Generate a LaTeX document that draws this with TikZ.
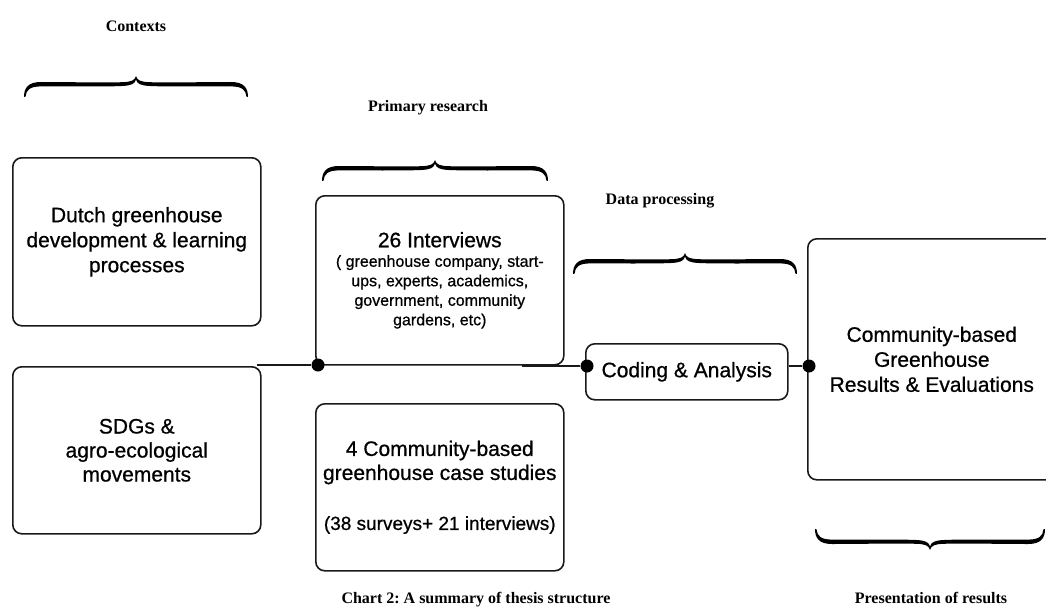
\documentclass[tikz,border=0pt]{standalone}
\usepackage{fontspec}
\setmainfont[FakeBold=0.7]{Liberation Sans}
\newfontfamily\labelfont{Liberation Serif}
\frenchspacing
\newcommand\calbrace[4]{% #1 x left, #2 x right, #3 y of tips, #4 = 1 cusp up / -1 cusp down
  \begin{scope}[shift={(#1,#3)}, yscale=-#4]
    \pgfmathsetmacro\bW{#2-#1}
    \pgfmathsetmacro\bM{(#2-#1)/2}
    \fill[black] (0,0) .. controls (0,9) and (4,15) .. (17,15)
      .. controls (40,15) and (\bM-30,14.2) .. (\bM-14,14.8) .. controls (\bM-5,15) and (\bM-1,16.5) .. (\bM,21)
      .. controls (\bM+1,16.5) and (\bM+5,15) .. (\bM+14,14.8)
      .. controls (\bM+30,14.2) and (\bW-40,15) .. (\bW-17,15) .. controls (\bW-4,15) and (\bW,9) .. (\bW,0)
      -- (\bW-1.6,0.4) .. controls (\bW-2,7) and (\bW-6,10.6) .. (\bW-17,10.6)
      .. controls (\bW-40,10.6) and (\bM+30,10.2) .. (\bM+14,11) .. controls (\bM+5,11.4) and (\bM+1,13) .. (\bM,17.5)
      .. controls (\bM-1,13) and (\bM-5,11.4) .. (\bM-14,11)
      .. controls (\bM-30,10.2) and (40,10.6) .. (17,10.6) .. controls (6,10.6) and (2,7) .. (1.6,0.4) -- cycle;
  \end{scope}}
\begin{document}
\begin{tikzpicture}[x=1pt,y=-1pt,
  box/.style={draw=black!90, line width=1.6pt, rounded corners=9pt, inner sep=0pt,
    anchor=north west, align=center, font=\fontsize{21}{25}\selectfont},
  dot/.style={circle, fill=black, inner sep=0pt, minimum size=13pt},
  conn/.style={line width=1.8pt, black!90},
  lbl/.style={font=\labelfont\bfseries\fontsize{16}{19}\selectfont, anchor=base, inner sep=0pt}
]
\useasboundingbox (0,0) rectangle (1046,607);
\clip (0,0) rectangle (1046,607);

% labels
\node[lbl] (lctx) at (136,32) {Contexts};
\node[lbl] (lprim) at (428,112) {Primary research};
\node[lbl] (ldata) at (660,204) {Data processing};
\node[lbl] (lpres) at (931,603) {Presentation of results};
\node[lbl] (lcap) at (476,603) {Chart 2: A summary of thesis structure};

% braces
\calbrace{24}{248}{97}{1}
\calbrace{322}{548}{181}{1}
\calbrace{573}{797}{274}{1}
\calbrace{815}{1045}{529}{-1}

% boxes
\node[box, minimum width=248pt, minimum height=168pt] (dutch) at (12,157)
  {Dutch greenhouse\\development \& learning\\processes};
\node[box, minimum width=248pt, minimum height=167pt, font=\fontsize{21}{24}\selectfont] (sdgs) at (12,366)
  {SDGs \&\\agro-ecological\\movements};
\node[box, minimum width=248pt, minimum height=169pt, font=\fontsize{16}{19.5}\selectfont] (intv) at (315,195)
  {{\fontsize{21}{25}\selectfont 26 Interviews}\\( greenhouse company, start-\\ups, experts, academics,\\government, community\\gardens, etc)};
\node[box, minimum width=248pt, minimum height=167pt, font=\fontsize{21}{24}\selectfont] (comm) at (315,403)
  {4 Community-based\\greenhouse case studies\\[26pt]{\fontsize{19}{24}\selectfont (38 surveys+ 21 interviews)}};
\node[box, minimum width=202pt, minimum height=56pt] (coding) at (585,343)
  {Coding \& Analysis};
\node[box, minimum width=248pt, minimum height=241pt] (results) at (807,238)
  {Community-based\\Greenhouse\\Results \& Evaluations};

% dots
\node[dot] (d1) at (318,365) {};
\node[dot] (d2) at (587,366) {};
\node[dot] (d3) at (809,366) {};

% connectors
\coordinate (s1) at (257,365);
\coordinate (s2) at (522,366);
\draw[conn] (s1) -- (d1);
\draw[conn] (s2) -- (d2);
\draw[conn] (coding.east |- d3) -- (d3);
\end{tikzpicture}
\end{document}
